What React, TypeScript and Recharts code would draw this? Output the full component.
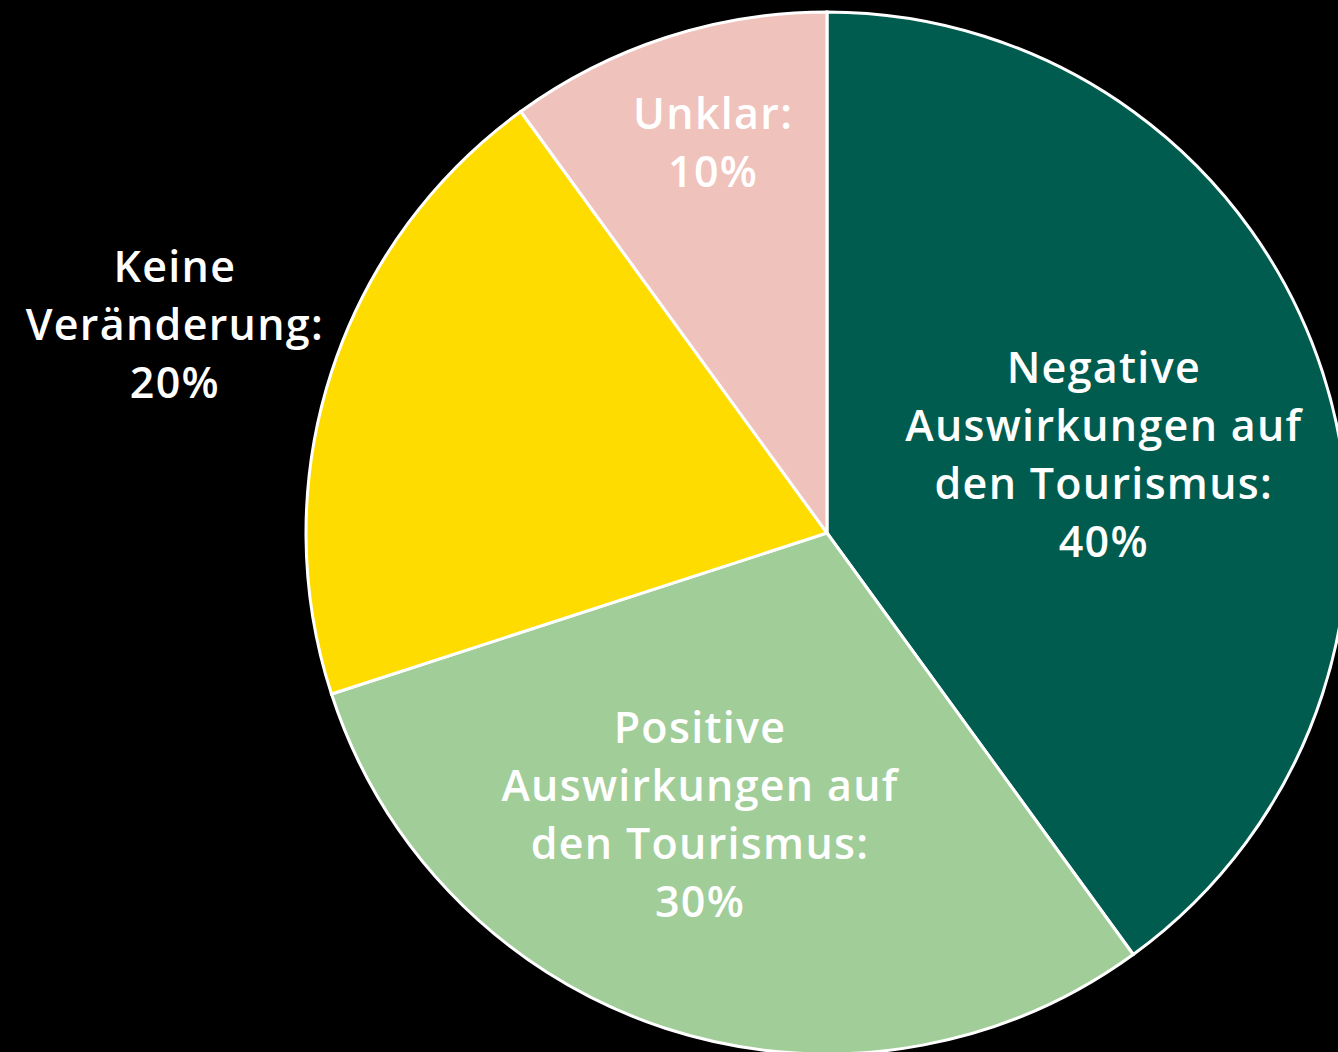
import { PieChart, Pie, Cell } from "recharts";

const categories = [
  "Negative Auswirkungen auf den Tourismus",
  "Positive Auswirkungen auf den Tourismus",
  "Keine Veränderung",
  "Unklar",
];
const shares = [40, 30, 20, 10];
const labelLines = [
  ["Negative", "Auswirkungen auf", "den Tourismus:", "40%"],
  ["Positive", "Auswirkungen auf", "den Tourismus:", "30%"],
  ["Keine", "Veränderung:", "20%"],
  ["Unklar:", "10%"],
];
const colors = ["#005c4e", "#a1cd99", "#ffdc00", "#f0c2bc"];
// label placement: share of radius and a small turn off the mid angle
const labelRadius = [0.553, 0.59, 1.315, 0.783];
const labelTurn = [-1.9, -6.4, 0.15, -1.8];

const data = categories.map((name, i) => ({ name, value: shares[i] }));

const RADIAN = Math.PI / 180;
const LINE_H = 58;

function renderLabel(props: any) {
  const { cx, cy, midAngle, outerRadius, index } = props;
  const r = outerRadius * labelRadius[index];
  const a = (midAngle + labelTurn[index]) * RADIAN;
  const x = cx + r * Math.cos(-a);
  const y = cy + r * Math.sin(-a);
  const lines = labelLines[index];
  const top = y - ((lines.length - 1) * LINE_H) / 2;
  return (
    <text
      key={index}
      x={x}
      y={top}
      fill="#ffffff"
      textAnchor="middle"
      dominantBaseline="central"
      fontFamily="'Open Sans', sans-serif"
      fontWeight={600}
      fontSize={43}
      letterSpacing={1.3}
    >
      {lines.map((l, j) => (
        <tspan key={j} x={x} y={top + j * LINE_H}>
          {l}
        </tspan>
      ))}
    </text>
  );
}

export default function App() {
  return (
    <div
      style={{
        position: "absolute",
        left: 0,
        top: 0,
        width: 1338,
        height: 1052,
        background: "#000000",
        overflow: "hidden",
      }}
    >
      <PieChart width={1338} height={1052} margin={{ top: 0, right: 0, bottom: 0, left: 0 }}>
        <Pie
          data={data}
          dataKey="value"
          nameKey="name"
          cx={827}
          cy={533}
          outerRadius={521}
          startAngle={90}
          endAngle={-270}
          stroke="#ffffff"
          strokeWidth={3}
          label={renderLabel}
          labelLine={false}
          isAnimationActive={false}
        >
          {data.map((d, i) => (
            <Cell key={d.name} fill={colors[i]} />
          ))}
        </Pie>
      </PieChart>
    </div>
  );
}
